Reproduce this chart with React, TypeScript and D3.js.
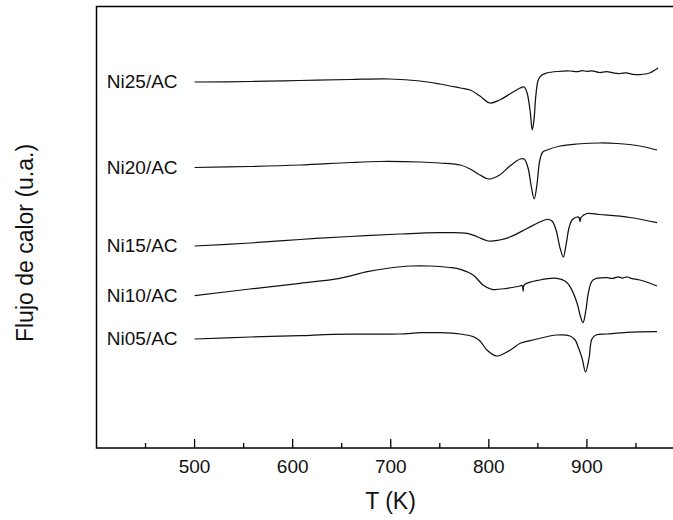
import React from "react";
import * as d3 from "d3";

// Temperature (K) and heat-flow values (arbitrary units) for each sample
const ni25T = [500, 556.5, 607.5, 658.5, 699, 730, 750, 771, 781, 791, 801, 811, 821.5, 832, 836, 839, 842, 844.3, 846, 848, 850.4, 854, 859, 870, 883, 890, 895, 900, 905, 913, 920, 928, 934, 940, 947, 954, 964, 972.5];
const ni25V = [366, 366.5, 367.5, 368.5, 369, 367, 364, 360, 358, 352, 345, 348, 354, 360, 361, 355, 338, 318, 328, 353, 368, 373, 375, 376.5, 377, 376.3, 377.4, 376.6, 377.2, 375.5, 376.4, 374.8, 374.5, 375.2, 373.6, 373.4, 375, 380];

const ni20T = [500, 556.5, 607.5, 658.5, 689, 730, 750, 771, 781, 791, 800, 811, 821.5, 832, 836, 840, 843, 846.3, 849, 852, 855, 859.3, 872.6, 890, 913.4, 930.7, 954, 971.5];
const ni20V = [280.5, 281.5, 283, 285.5, 286.5, 286, 285, 283, 279, 273, 269, 273, 282, 289, 289, 280, 263, 249, 263, 288, 296, 298, 302, 304, 305, 304.5, 302, 298];

const ni15T = [500, 556.5, 607.5, 658.5, 709, 750, 778, 789, 799, 811, 821.5, 839, 852, 859.3, 864.4, 868.5, 872.6, 876, 878.7, 881.7, 884.8, 890, 892, 893, 894, 900, 913.4, 944, 971.5];
const ni15V = [202, 205, 208.5, 211.5, 214, 215.3, 214.7, 211, 207, 208, 211, 219.5, 226, 228.5, 227, 218, 200, 191, 203, 220, 228, 231, 230.5, 226.5, 230.5, 234.5, 233.5, 230.5, 225.3];

const ni10T = [500, 556.5, 607.5, 648, 676, 699, 720, 740, 760, 771, 784, 794, 803, 818.5, 832, 834, 835, 836, 852, 869.5, 877.7, 882.8, 890, 893, 896, 899, 901.4, 906.2, 920.5, 926, 932, 936, 941, 946, 954, 971.5];
const ni10V = [152.3, 159, 164.7, 169.7, 176.3, 180, 182, 182, 180.5, 178.7, 173, 163, 158.7, 159.7, 162, 162.5, 157, 163, 168, 169.7, 167, 161.3, 144.7, 133, 125.3, 138, 154.7, 168, 170.3, 169.5, 171.2, 170, 171, 169.4, 168, 162];

const ni05T = [500, 556.5, 607.5, 641, 709, 730, 750, 771, 784, 791, 798, 808, 816.5, 824.6, 832, 845, 869.5, 882.8, 888, 891, 895, 898.6, 902.2, 905, 909.3, 920.5, 941, 971.5];
const ni05V = [109, 111, 112.3, 113.7, 114, 115.3, 115.3, 114, 111.3, 107, 98, 92, 95, 99.7, 104.7, 108, 113, 112, 108, 101.3, 90, 76, 90, 108.7, 113, 114, 115.7, 116.3];

const seriesNames = ["Ni25/AC", "Ni20/AC", "Ni15/AC", "Ni10/AC", "Ni05/AC"];
const seriesT = [ni25T, ni20T, ni15T, ni10T, ni05T];
const seriesV = [ni25V, ni20V, ni15V, ni10V, ni05V];

const majorTicks = [500, 600, 700, 800, 900];
const minorTicks = [450, 550, 650, 750, 850, 950];

const xLabel = "T (K)";
const yLabel = "Flujo de calor (u.a.)";

const W = 673;
const H = 520;
const FONT = "'Liberation Sans', Arial, Helvetica, sans-serif";

export default function App() {
  const x = d3.scaleLinear().domain([400, 1000]).range([96.5, 685]);
  const y = d3.scaleLinear().domain([0, 441.5]).range([448, 6.5]);

  const line = d3
    .line<[number, number]>()
    .x((d) => x(d[0]))
    .y((d) => y(d[1]))
    .curve(d3.curveCatmullRom.alpha(0.5));

  const x0 = x(400);
  const y0 = y(0);
  const yTop = y(441.5);
  const xRight = x(1000);

  return (
    <svg
      width={W}
      height={H}
      style={{ position: "absolute", left: 0, top: 0, background: "#fff" }}
      fontFamily={FONT}
    >
      <rect x={0} y={0} width={W} height={H} fill="#fff" />
      {/* frame */}
      <rect
        x={x0}
        y={yTop}
        width={xRight - x0}
        height={y0 - yTop}
        fill="none"
        stroke="#000"
        strokeWidth={1.5}
      />
      {/* ticks */}
      {majorTicks.map((t) => (
        <g key={"M" + t}>
          <line x1={x(t)} x2={x(t)} y1={y0} y2={y0 - 9} stroke="#000" strokeWidth={1.3} />
          <text x={x(t)} y={473} textAnchor="middle" fontSize={19} fill="#111">
            {t}
          </text>
        </g>
      ))}
      {minorTicks.map((t) => (
        <line key={"m" + t} x1={x(t)} x2={x(t)} y1={y0} y2={y0 - 5} stroke="#000" strokeWidth={1.3} />
      ))}
      {/* curves */}
      {seriesNames.map((name, i) => {
        const pts: [number, number][] = seriesT[i].map((t, j) => [t, seriesV[i][j]]);
        return (
          <g key={name}>
            <path d={line(pts) || ""} fill="none" stroke="#111" strokeWidth={1.25} strokeLinejoin="round" />
            <text
              x={x(seriesT[i][0]) - 17}
              y={y(seriesV[i][0]) + 6}
              textAnchor="end"
              fontSize={19}
              fill="#111"
            >
              {name}
            </text>
          </g>
        );
      })}
      {/* axis titles */}
      <text x={390.5} y={509} textAnchor="middle" fontSize={23} fill="#111">
        {xLabel}
      </text>
      <text
        transform={`translate(33,243) rotate(-90)`}
        textAnchor="middle"
        fontSize={23}
        fill="#111"
      >
        {yLabel}
      </text>
    </svg>
  );
}
